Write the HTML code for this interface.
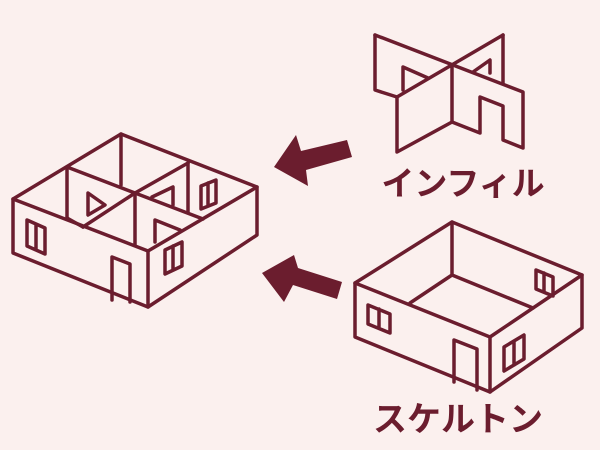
<html><head><style>body{margin:0;background:#fbf0ee;}svg{display:block}</style></head><body>
<svg width="600" height="450" viewBox="0 0 600 450" xmlns="http://www.w3.org/2000/svg">
<rect width="600" height="450" fill="#fbf0ee"/>
<g fill="none" stroke="#6b1d2e" stroke-width="3.5" stroke-linejoin="round" stroke-linecap="round">
<!-- left house -->
<path d="M13,199 L121,134 L257,187 L148,251 Z"/>
<path d="M13,199 L13,253 L148,307 L257,235 L257,187"/>
<path d="M148,251 L148,307"/>
<path d="M121,134 L121,185"/>
<path d="M67,167 L67,218 M188,163 L188,212 M135,193 L135,245"/>
<path d="M67,167 L135,193 L203,219"/>
<path d="M188,163 L135,193 L83,227"/>
<path d="M67,218 L83,227"/>
<path d="M88,215 L88,193 L105,205 Z"/>
<path d="M152,197 L173,187 L173,205"/>
<path d="M155,242 L155,220 L180,230"/>
<path d="M27,220 L45,228 L45,254 L27,246 Z M36,224 L36,250"/>
<path d="M112,300 L112,257 L130,264 L130,302"/>
<path d="M165,250 L182,242 L182,266 L165,274 Z M173,246 L173,270"/>
<path d="M201,186 L216,180 L216,203 L201,209 Z M208,183 L208,206"/>
<!-- infill -->
<path d="M375,35 L523,92 L523,148 L503,140 L503,106 L480,97 L480,133 L452,122"/>
<path d="M375,35 L375,90 L397,97"/>
<path d="M503,35 L503,83"/>
<path d="M503,35 L397,97 L397,152 L452,122 L452,67"/>
<path d="M403,90 L403,67 L428,78"/>
<path d="M473,72 L490,60 L490,73"/>
<!-- skeleton -->
<path d="M355,283 L452,222 L582,275 L490,337 Z"/>
<path d="M355,283 L355,337 L490,392 L582,328 L582,275"/>
<path d="M490,337 L490,392"/>
<path d="M452,222 L452,275 M410,303 L452,275 L533,308"/>
<path d="M368,305 L390,314 L390,333 L368,324 Z M379,309 L379,328"/>
<path d="M454,382 L454,340 L477,349 L477,390"/>
<path d="M504,347 L524,335 L524,359 L504,371 Z M514,341 L514,365"/>
<path d="M536,270 L553,277 L553,296 L536,289 Z M544,273 L544,292"/>
</g>
<g fill="#6b1d2e">
<polygon points="274,167 296,135 301,151 347,140 352,157 306,170 308,186"/>
<polygon points="262,273 294,255 298,268 342,282 337,299 293,285 284,302"/>
</g>
<g fill="#6b1d2e" font-family="'Liberation Sans','Noto Sans CJK JP',sans-serif" font-weight="bold" text-anchor="middle">
<text x="463" y="195" font-size="33">インフィル</text>
<text x="458" y="431" font-size="34">スケルトン</text>
</g>
</svg>
</body></html>
